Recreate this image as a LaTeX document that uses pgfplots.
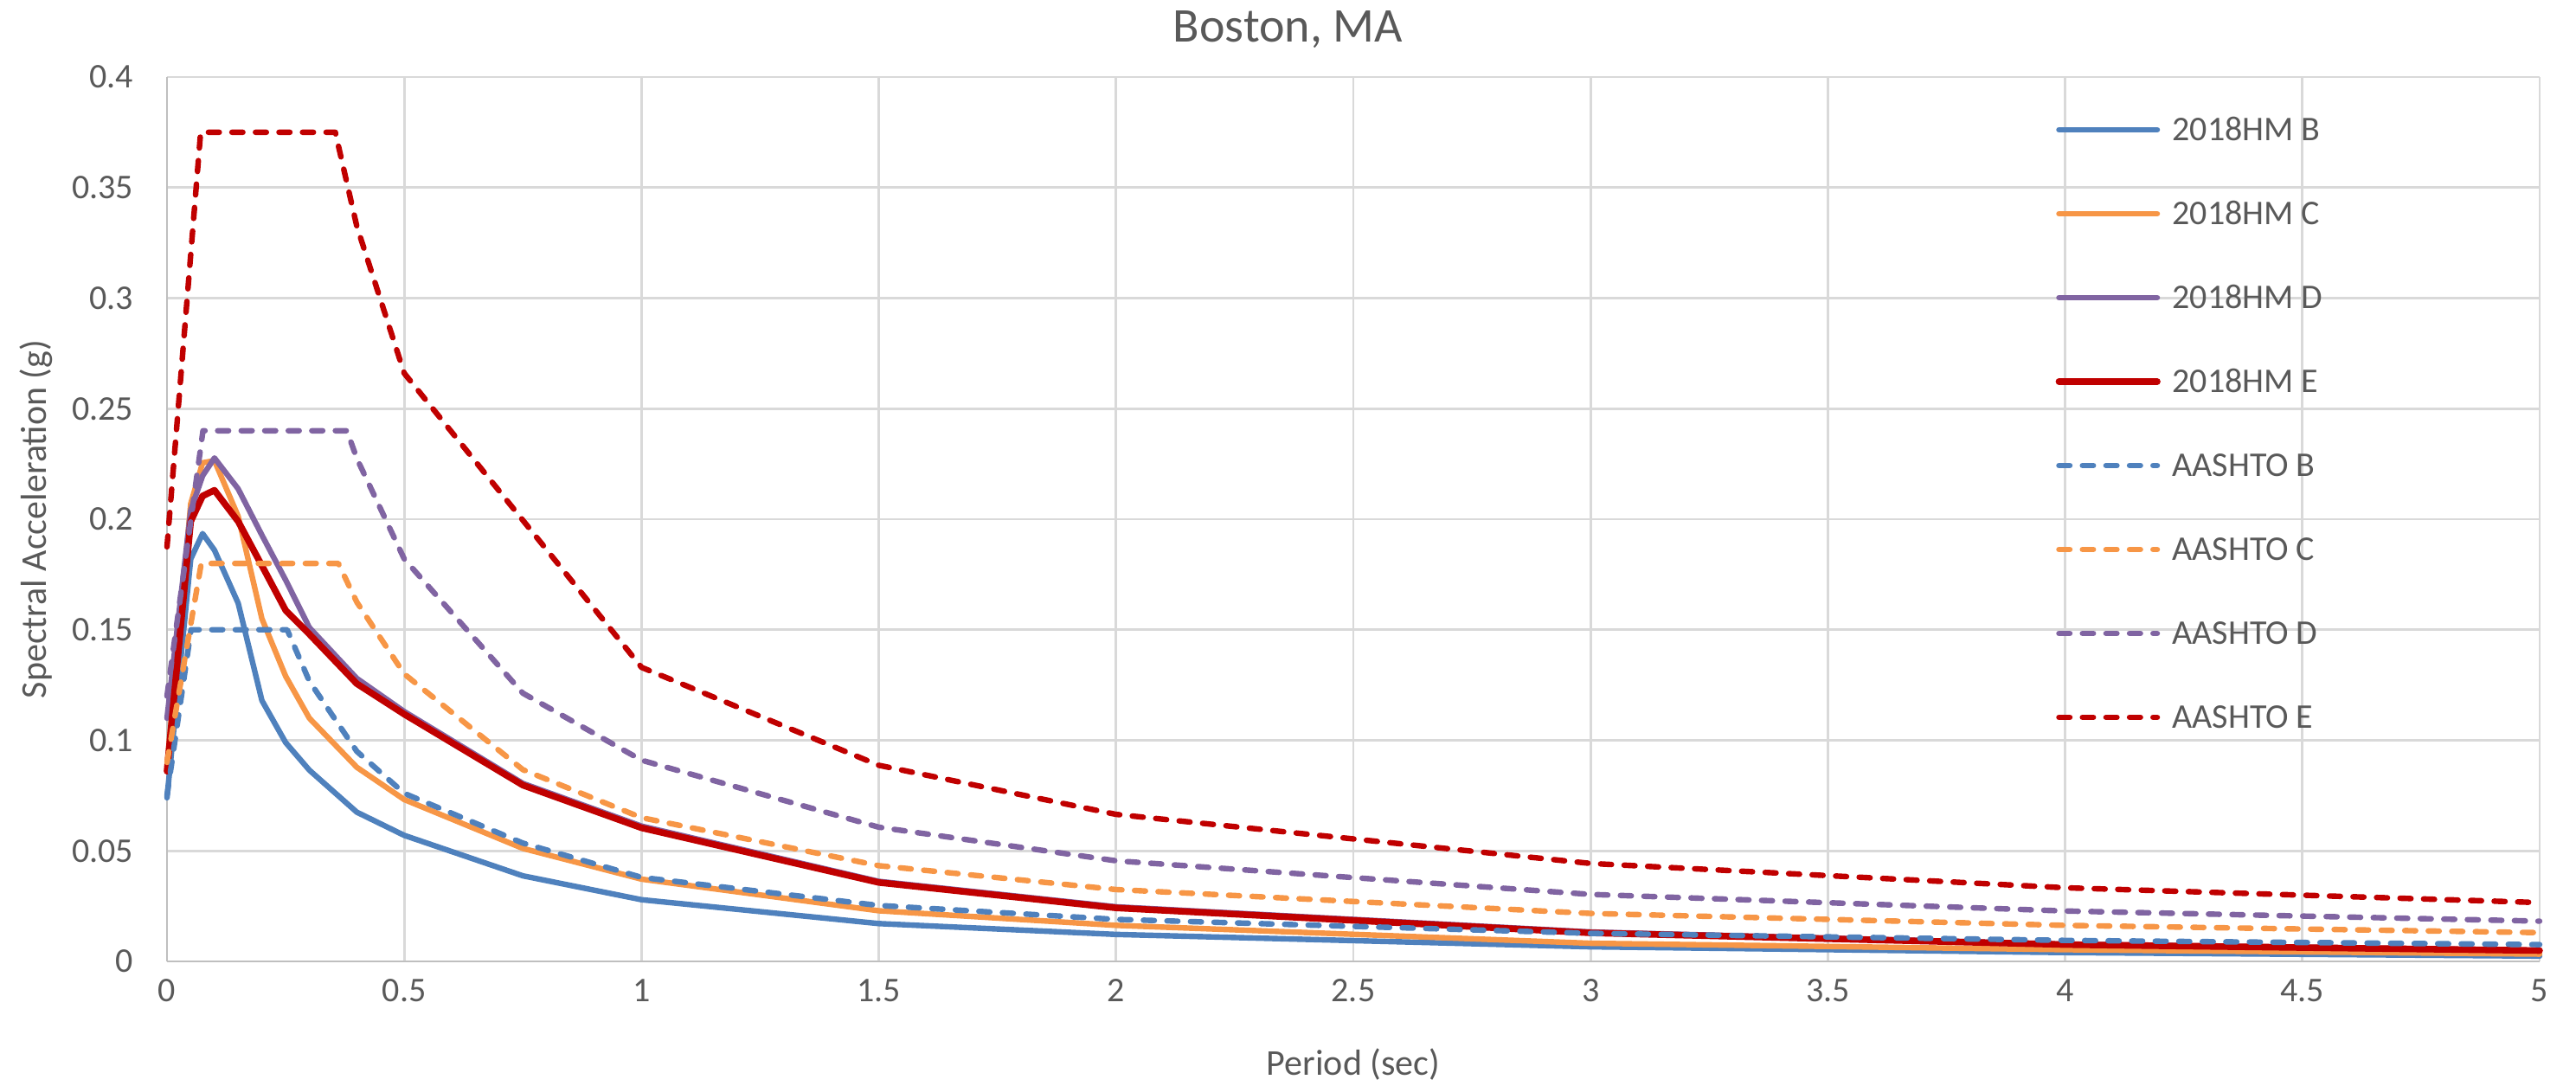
\documentclass[border=0pt]{standalone}
\usepackage{fontspec}
\setmainfont{Carlito}
\usepackage{pgfplots}
\usepackage{pgfplotstable}
\pgfplotsset{compat=1.18}

\definecolor{cB}{HTML}{4F81BD}
\definecolor{cC}{HTML}{F79646}
\definecolor{cD}{HTML}{8064A2}
\definecolor{cE}{HTML}{C00000}
\definecolor{txt}{HTML}{595959}
\definecolor{grd}{HTML}{D9D9D9}
\definecolor{axl}{HTML}{BFBFBF}

% 2018 hazard model spectra (period in s, Sa in g)
\pgfplotstableread{
T      B       C       D       E
0      0.074   0.088   0.110   0.086
0.05   0.182   0.207   0.204   0.199
0.075  0.1935  0.2255  0.2196  0.2105
0.1    0.186   0.2265  0.2277  0.2131
0.15   0.162   0.2013  0.2137  0.1990
0.2    0.118   0.155   0.1928  0.1790
0.25   0.099   0.129   0.1725  0.1588
0.3    0.0865  0.110   0.151   0.148
0.4    0.0675  0.0878  0.128   0.1256
0.5    0.057   0.0732  0.113   0.1118
0.75   0.0387  0.0511  0.0805  0.0797
1      0.0279  0.0372  0.0612  0.0604
1.5    0.0171  0.0229  0.0362  0.0357
2      0.0122  0.0163  0.0247  0.0242
3      0.0066  0.0082  0.0133  0.0129
4      0.0040  0.0053  0.0078  0.0076
5      0.0024  0.0033  0.0050  0.0049
}\hm

% AASHTO design spectra, one table per site class
\pgfplotstableread{
T       Sa
0       0.075
0.0507  0.15
0.2533  0.15
0.3     0.1267
0.4     0.095
0.5     0.076
0.75    0.0535
1       0.038
1.5     0.0253
2       0.019
3       0.0127
4       0.0095
5       0.0076
}\aB
\pgfplotstableread{
T       Sa
0       0.09
0.0722  0.18
0.3611  0.18
0.4     0.1625
0.5     0.13
0.75    0.0867
1       0.065
1.5     0.0433
2       0.0325
3       0.0217
4       0.0163
5       0.013
}\aC
\pgfplotstableread{
T       Sa
0       0.12
0.0758  0.24
0.3792  0.24
0.4     0.2275
0.5     0.182
0.75    0.1213
1       0.091
1.5     0.0607
2       0.0455
3       0.0303
4       0.0228
5       0.0182
}\aD
\pgfplotstableread{
T       Sa
0       0.1875
0.0709  0.375
0.3547  0.375
0.4     0.3325
0.5     0.266
1       0.133
1.5     0.0887
2       0.0665
3       0.0443
4       0.0333
5       0.0266
}\aE

\begin{document}
\begin{tikzpicture}
\begin{axis}[
  at={(0,0)}, anchor=south west,
  scale only axis, width=685.5pt, height=255.5pt,
  xmin=0, xmax=5, ymin=0, ymax=0.4,
  clip=false,
  xtick={0,0.5,1,1.5,2,2.5,3,3.5,4,4.5,5},
  ytick={0,0.05,0.1,0.15,0.2,0.25,0.3,0.35,0.4},
  grid=major,
  major grid style={draw=grd, line width=0.7pt},
  axis lines=left,
  axis line style={-, draw=axl, line width=0.7pt},
  major tick length=0pt,
  tick label style={font=\fontsize{10}{12}\selectfont, text=txt},
  xticklabel style={yshift=-1.6pt},
  yticklabel style={xshift=-6.2pt},
  /pgf/number format/.cd, fixed, precision=2, assume math mode=true,
  /pgfplots/.cd,
  every axis title shift=0pt,
  title={Boston, MA},
  title style={at={(axis description cs:0.4725,1.0538)}, anchor=center, yshift=0pt,
               font=\fontsize{14}{17}\selectfont, text=txt},
  xlabel={Period (sec)},
  xlabel style={at={(axis description cs:0.5,-0.1164)}, anchor=center,
                font=\fontsize{10.5}{12}\selectfont, text=txt},
  ylabel={Spectral Acceleration (g)},
  ylabel style={at={(axis description cs:-0.0551,0.5)}, anchor=center, rotate=0,
                font=\fontsize{10.5}{12}\selectfont, text=txt},
  legend cell align=left,
  legend image code/.code={\draw[#1, line cap=round] (0pt,0pt) -- (28.4pt,0pt);},
  legend style={draw=none, fill=none, inner sep=0pt, outer sep=0pt,
                at={(0.7960,0.9529)}, anchor=north west,
                row sep=17.85pt, column sep=3.4pt,
                font=\fontsize{10}{12}\selectfont, text=txt,
                nodes={inner sep=0pt, text height=6.4pt, text depth=0pt}},
  every axis plot/.append style={line join=round, line cap=round},
  hm/.style={line width=1.6pt},
  aa/.style={line width=1.6pt, dash pattern=on 3.15pt off 3.65pt},
]
\addplot[hm, cB] table[x=T, y=B] {\hm};
\addlegendentry{2018HM B}
\addplot[hm, cC] table[x=T, y=C] {\hm};
\addlegendentry{2018HM C}
\addplot[hm, cD] table[x=T, y=D] {\hm};
\addlegendentry{2018HM D}
\addplot[hm, cE, line width=1.9pt] table[x=T, y=E] {\hm};
\addlegendentry{2018HM E}
\addplot[aa, cB] table[x=T, y=Sa] {\aB};
\addlegendentry{AASHTO B}
\addplot[aa, cC] table[x=T, y=Sa] {\aC};
\addlegendentry{AASHTO C}
\addplot[aa, cD] table[x=T, y=Sa] {\aD};
\addlegendentry{AASHTO D}
\addplot[aa, cE] table[x=T, y=Sa] {\aE};
\addlegendentry{AASHTO E}
\end{axis}
\pgfresetboundingbox
\useasboundingbox (-48.25pt,-35.75pt) rectangle (696pt,277.75pt);
\end{tikzpicture}
\end{document}
